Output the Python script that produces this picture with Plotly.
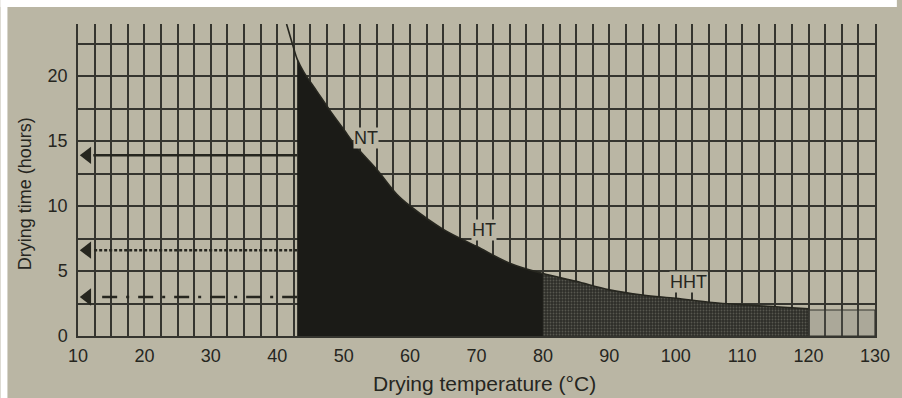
import plotly.graph_objects as go

# Drying curve: temperature (°C) vs drying time (hours)
curve_temp = [41.4, 42.5, 43, 44, 46, 48, 50, 52, 55, 58, 60, 65, 70, 75, 80,
              85, 90, 95, 100, 105, 110, 115, 120]
curve_time = [24.0, 22.1, 21.3, 20.3, 18.8, 17.3, 15.9, 14.5, 12.8, 10.9, 10.0,
              8.2, 6.9, 5.6, 4.8, 4.2, 3.55, 3.15, 2.9, 2.6, 2.4, 2.25, 2.1]

# Zone boundaries (°C) and the labels of the zones
zone_start = 43
ht_end = 80
hht_end = 120
axis_end = 130
light_box_time = 2.0

zone_labels = ["NT", "HT", "HHT"]
label_temp = [53.3, 71.2, 101.9]
label_time = [15.2, 8.15, 4.15]

# Read-off arrows toward the time axis
arrow_time = [13.9, 6.6, 3.0]
arrow_dash = ["solid", "3px,2px", "15px,9px,3px,9px"]
arrow_from = 43
arrow_to = 12.3
arrow_tip = 11.4

x_ticks = list(range(10, 131, 10))
y_ticks = [0, 5, 10, 15, 20]

BG = "#bab6a4"
INK = "#26261f"
GRID = "#35352f"
FONT = "Liberation Sans, Arial, sans-serif"

W, H = 902, 398
ML, MR, MT, MB = 78, 22, 24, 62
PW, PH = W - ML - MR, H - MT - MB


def px_x(p):
    return (p - ML) / PW


def px_y(p):
    return (H - MB - p) / PH


def zone_points(lo, hi):
    xs, ys = [], []
    for tx, ty in zip(curve_temp, curve_time):
        if lo <= tx <= hi:
            xs.append(tx)
            ys.append(ty)
    return xs, ys


fig = go.Figure()

# Arrows (drawn first so the filled zones sit on top)
for t, d in zip(arrow_time, arrow_dash):
    fig.add_trace(go.Scatter(
        x=[arrow_from, arrow_to], y=[t, t], mode="lines",
        line=dict(color=INK, width=2.6, dash=d), hoverinfo="skip"))
    fig.add_trace(go.Scatter(
        x=[arrow_tip], y=[t], mode="markers",
        marker=dict(symbol="triangle-left", size=15, color=INK), hoverinfo="skip"))

# NT + HT zone (solid black)
xs, ys = zone_points(zone_start, ht_end)
fig.add_trace(go.Scatter(x=xs, y=ys, fill="tozeroy", mode="lines",
                         line=dict(width=0, shape="spline", smoothing=1),
                         fillcolor="#1b1b17", hoverinfo="skip"))

# HHT zone (dark stippled grey)
xs, ys = zone_points(ht_end, hht_end)
fig.add_trace(go.Scatter(x=xs, y=ys, fill="tozeroy", mode="lines",
                         line=dict(width=0, shape="spline", smoothing=1),
                         fillcolor="#33332e",
                         fillpattern=dict(shape=".", fgcolor="#57574f", bgcolor="#2d2d28",
                                          size=3, solidity=0.3, fillmode="replace"),
                         hoverinfo="skip"))

# Light box beyond 120 °C
fig.add_trace(go.Scatter(
    x=[hht_end, axis_end, axis_end, hht_end, hht_end],
    y=[0, 0, light_box_time, light_box_time, 0],
    fill="toself", mode="lines", line=dict(color=GRID, width=1.2),
    fillcolor="rgba(120,120,112,0.22)", hoverinfo="skip"))

# Curve outline
fig.add_trace(go.Scatter(x=curve_temp, y=curve_time, mode="lines",
                         line=dict(color=INK, width=1.6, shape="spline", smoothing=1),
                         hoverinfo="skip"))

# Zone labels
for lab, tx, ty in zip(zone_labels, label_temp, label_time):
    fig.add_annotation(x=tx, y=ty, text=lab, showarrow=False,
                       font=dict(family=FONT, size=18, color=INK),
                       bgcolor=BG, borderpad=0)

# Axis titles
fig.add_annotation(xref="paper", yref="paper", x=px_x(487), y=px_y(384),
                   xanchor="center", yanchor="middle",
                   text="Drying temperature (°C)", showarrow=False,
                   font=dict(family=FONT, size=21, color=INK))
fig.add_annotation(xref="paper", yref="paper", x=px_x(25), y=px_y(194),
                   xanchor="center", yanchor="middle",
                   text="Drying time (hours)", textangle=-90, showarrow=False,
                   font=dict(family=FONT, size=18, color=INK))

# White strips along the top and left edges
fig.add_shape(type="rect", xref="paper", yref="paper", layer="above",
              x0=px_x(0), x1=px_x(W), y0=px_y(7), y1=px_y(0),
              fillcolor="white", line=dict(width=0))
fig.add_shape(type="rect", xref="paper", yref="paper", layer="above",
              x0=px_x(0), x1=px_x(7), y0=px_y(H), y1=px_y(0),
              fillcolor="white", line=dict(width=0))

fig.update_layout(
    width=W, height=H,
    margin=dict(l=ML, r=MR, t=MT, b=MB),
    paper_bgcolor=BG, plot_bgcolor=BG,
    showlegend=False,
    font=dict(family=FONT, color=INK),
    xaxis=dict(range=[10, axis_end], tickvals=x_ticks, ticks="",
               showgrid=True, gridcolor=GRID, gridwidth=1.5,
               minor=dict(dtick=2.5, tick0=10, showgrid=True, gridcolor=GRID, gridwidth=1.5),
               zeroline=False, showline=True, linecolor=GRID, linewidth=1.8,
               tickfont=dict(family=FONT, size=18, color=INK), ticklabelstandoff=2),
    yaxis=dict(range=[0, 24], tickvals=y_ticks, ticks="",
               showgrid=True, gridcolor=GRID, gridwidth=1.5,
               minor=dict(dtick=2.5, tick0=0, showgrid=True, gridcolor=GRID, gridwidth=1.5),
               zeroline=False, showline=True, mirror=True, linecolor=GRID, linewidth=1.5,
               tickfont=dict(family=FONT, size=18, color=INK), ticklabelstandoff=5),
)

fig.write_html("out.html")
